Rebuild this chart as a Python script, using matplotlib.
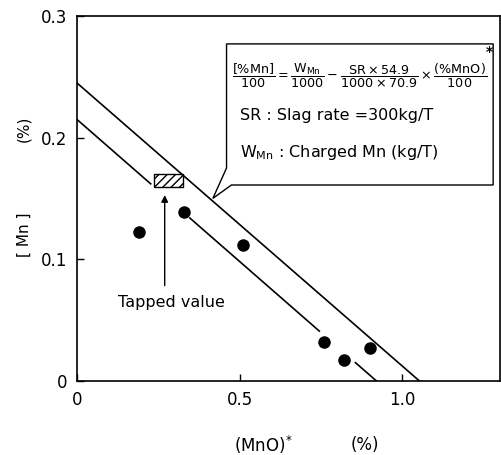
import matplotlib
matplotlib.use("Agg")
import matplotlib.pyplot as plt
from matplotlib.patches import Rectangle, Polygon
import numpy as np

# measured points: (MnO)* vs [Mn]
mno = [0.19, 0.33, 0.51, 0.76, 0.82, 0.90]
mn = [0.122, 0.139, 0.112, 0.032, 0.017, 0.027]

# mass balance lines: intercept on [Mn] axis and on (MnO)* axis
upper_line = (0.245, 1.052)
lower_line = (0.215, 0.92)
# lower line is broken where it would run through the marks
lower_segments = [(0.0, 0.227), (0.347, 0.745), (0.856, 0.92)]

# tapped value range
tapped_x = (0.236, 0.325)
tapped_y = (0.159, 0.170)

x_ticks = [0, 0.5, 1.0]
x_ticklabels = ["0", "0.5", "1.0"]
y_ticks = [0, 0.1, 0.2, 0.3]
y_ticklabels = ["0", "0.1", "0.2", "0.3"]

plt.rcParams["font.family"] = "DejaVu Sans"
plt.rcParams["mathtext.default"] = "regular"


def line_y(line, x):
    y0, x0 = line
    return y0 * (1 - np.asarray(x) / x0)


fig = plt.figure(figsize=(5.02, 4.55), dpi=100)
ax = fig.add_axes([0.153, 0.163, 0.843, 0.802])

xs = np.array([0.0, upper_line[1]])
ax.plot(xs, line_y(upper_line, xs), color="black", lw=1.2)
for a, b in lower_segments:
    xs = np.array([a, b])
    ax.plot(xs, line_y(lower_line, xs), color="black", lw=1.2)

ax.plot(mno, mn, "o", color="black", ms=8)

ax.add_patch(Rectangle((tapped_x[0], tapped_y[0]), tapped_x[1] - tapped_x[0],
                       tapped_y[1] - tapped_y[0], facecolor="white",
                       edgecolor="black", hatch="////", lw=1.0))
ax.annotate("", xy=(0.27, tapped_y[0] - 0.004), xytext=(0.27, 0.076),
            arrowprops=dict(arrowstyle="-|>", color="black", lw=1.0,
                            mutation_scale=10))
ax.text(0.29, 0.064, "Tapped value", ha="center", va="center", fontsize=11.5)

# callout box with the balance equation
box = Polygon([(0.460, 0.277), (1.279, 0.277), (1.279, 0.161), (0.475, 0.161),
               (0.418, 0.150), (0.460, 0.175)], closed=True,
              facecolor="white", edgecolor="black", lw=1.0, zorder=5)
ax.add_patch(box)
ax.text(0.868, 0.251,
        r"$\dfrac{[\%Mn]}{100}=\dfrac{W_{Mn}}{1000}-\dfrac{SR\times54.9}{1000\times70.9}"
        r"\times\dfrac{(\%MnO)}{100}$",
        ha="center", va="center", fontsize=9.2, zorder=6)
ax.text(1.266, 0.270, "*", ha="center", va="center", fontsize=10,
        fontweight="bold", zorder=6)
ax.text(0.50, 0.218, "SR : Slag rate =300kg/T", ha="left", va="center",
        fontsize=11.5, zorder=6)
ax.text(0.50, 0.188, r"W$_{Mn}$ : Charged Mn (kg/T)", ha="left", va="center",
        fontsize=11.5, zorder=6)

ax.set_xlim(0, 1.3)
ax.set_ylim(0, 0.3)
ax.set_xticks(x_ticks)
ax.set_xticklabels(x_ticklabels)
ax.set_yticks(y_ticks)
ax.set_yticklabels(y_ticklabels)
ax.tick_params(direction="in", length=5, width=1.0, labelsize=12, pad=7)
for s in ax.spines.values():
    s.set_linewidth(1.2)

ax.text(-0.125, 0.69, "(%)", rotation=90, ha="center", va="center",
        transform=ax.transAxes, fontsize=11)
ax.text(-0.125, 0.40, "[ Mn ]", rotation=90, ha="center", va="center",
        transform=ax.transAxes, fontsize=11)
ax.text(0.44, -0.175, "(MnO)$^{*}$", ha="center", va="center",
        transform=ax.transAxes, fontsize=12)
ax.text(0.68, -0.175, "(%)", ha="center", va="center",
        transform=ax.transAxes, fontsize=12)

fig.savefig("out.png", dpi=100)
